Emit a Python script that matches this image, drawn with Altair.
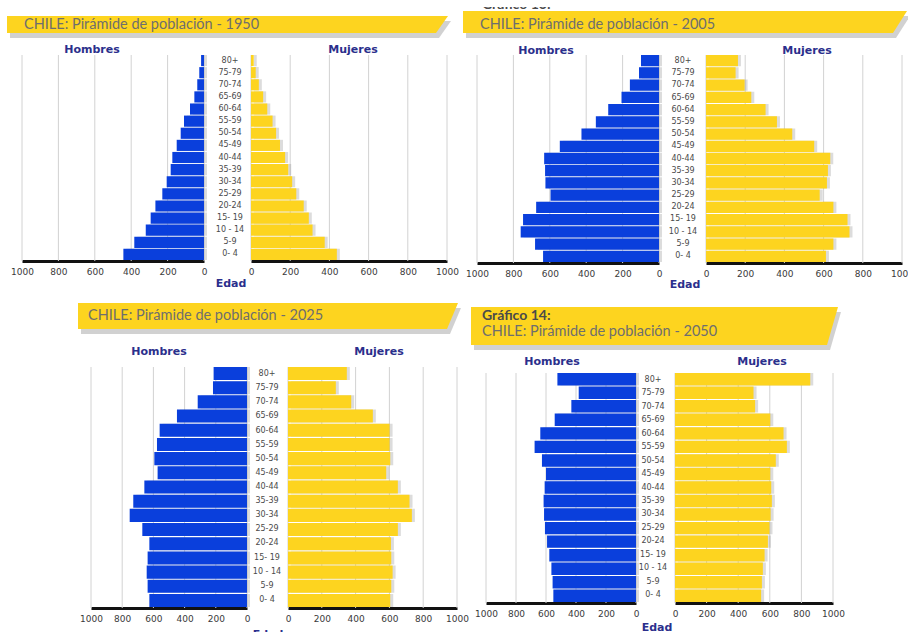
import altair as alt
import pandas as pd

# ---------------- data ----------------
AGES = ["0- 4", "5-9", "10 - 14", "15- 19", "20-24", "25-29", "30-34", "35-39",
        "40-44", "45-49", "50-54", "55-59", "60-64", "65-69", "70-74", "75-79", "80+"]
TICKS = [0, 200, 400, 600, 800, 1000]

HOMBRES_1950 = [443, 383, 320, 293, 267, 229, 205, 183, 174, 150, 128, 110, 77, 53, 37, 26, 16]
MUJERES_1950 = [438, 376, 314, 295, 269, 231, 210, 190, 174, 148, 128, 110, 83, 62, 40, 24, 14]
HOMBRES_2005 = [637, 681, 760, 747, 675, 596, 624, 626, 631, 545, 426, 347, 279, 206, 160, 110, 99]
MUJERES_2005 = [612, 650, 732, 722, 650, 580, 617, 622, 634, 552, 440, 362, 304, 231, 197, 151, 163]
HOMBRES_2025 = [626, 637, 643, 637, 626, 671, 752, 729, 658, 573, 594, 577, 560, 449, 316, 218, 214]
MUJERES_2025 = [605, 611, 619, 611, 609, 650, 733, 719, 650, 581, 605, 601, 601, 502, 374, 283, 348]
HOMBRES_2050 = [551, 556, 564, 578, 593, 607, 613, 616, 609, 600, 627, 676, 638, 542, 431, 382, 524]
MUJERES_2050 = [545, 550, 556, 567, 588, 598, 605, 613, 609, 603, 638, 708, 687, 603, 507, 497, 856]

TITLES = {
    "1950": "CHILE: Pirámide de población  - 1950",
    "2005": "CHILE: Pirámide de población  - 2005",
    "2025": "CHILE: Pirámide de población  - 2025",
    "2050": "CHILE: Pirámide de población  - 2050",
}
SUPER = {"2005": "Gráfico 13:", "2050": "Gráfico 14:"}
TXT_H = "Hombres"
TXT_M = "Mujeres"
TXT_EDAD = "Edad"

# ---------------- layout / style ----------------
W, H = 908, 632
BLUE = "#0a3fdc"
YELLOW = "#fdd41f"
NAVY = "#2b2f8c"
GRID = "#d2d2d2"

LAYOUT = {
    "1950": dict(m=(204, 22), f=(251, 447), y=(55, 260), axis=261, lab=230,
                 hom=(92, 50), muj=(353, 50), edad=(231, 284),
                 ban=(7, 16, 448, 436, 33), title=(24, 25)),
    "2005": dict(m=(659, 477), f=(706, 902), y=(55, 262), axis=263, lab=683,
                 hom=(546, 51), muj=(807, 51), edad=(685, 285),
                 ban=(463, 11, 907, 893, 33), title=(480, 25), sup=(482, 5)),
    "2025": dict(m=(247, 91), f=(288, 457), y=(367, 607), axis=608, lab=267,
                 hom=(159, 352), muj=(379, 352), edad=(268, 635),
                 ban=(78, 303, 458, 447, 329), title=(88, 316)),
    "2050": dict(m=(636, 486), f=(675, 833), y=(373, 602), axis=603, lab=653,
                 hom=(552, 362), muj=(762, 362), edad=(657, 628),
                 ban=(471, 307, 838, 827, 345), title=(482, 332), sup=(482, 316)),
}
SERIES = {
    "1950": (HOMBRES_1950, MUJERES_1950),
    "2005": (HOMBRES_2005, MUJERES_2005),
    "2025": (HOMBRES_2025, MUJERES_2025),
    "2050": (HOMBRES_2050, MUJERES_2050),
}

ONE = pd.DataFrame({"k": [0]})


def text_layer(txt, x, y, size, color, weight="normal", font="DejaVu Sans", align="center"):
    return alt.Chart(pd.DataFrame({"t": [txt]})).mark_text(
        fontSize=size, color=color, fontWeight=weight, font=font,
        align=align, baseline="middle"
    ).encode(text="t:N", x=alt.value(x), y=alt.value(y))


def banner_layers(g):
    x0, y0, xtr, xbr, y1 = g["ban"]
    w, h, wb = xtr - x0, y1 - y0, xbr - x0
    path = f"M0,0 L{w},0 L{wb},{h} L0,{h} Z"
    shadow = alt.Chart(ONE).mark_point(
        shape=path, size=4, filled=True, color="#7a7a7a", opacity=0.35, strokeWidth=0
    ).encode(x=alt.value(x0 + 3), y=alt.value(y0 + 5))
    band = alt.Chart(ONE).mark_point(
        shape=path, size=4, filled=True, color=YELLOW, opacity=1, strokeWidth=0
    ).encode(x=alt.value(x0), y=alt.value(y0))
    return [shadow, band]


def half_layers(values, xr, g, color, shadow_dx):
    df = pd.DataFrame({"edad": AGES, "valor": values})
    top_down = AGES[::-1]

    def xs():
        return alt.Scale(domain=[0, 1000], range=list(xr), nice=False, zero=True)

    def ys():
        return alt.Scale(domain=top_down, range=[g["y"][0], g["y"][1]],
                         paddingInner=0.08, paddingOuter=0)

    grid = alt.Chart(pd.DataFrame({"v": TICKS})).mark_rule(
        color=GRID, strokeWidth=1
    ).encode(x=alt.X("v:Q", scale=xs(), axis=None),
             y=alt.value(g["y"][0]), y2=alt.value(g["axis"]))
    sh = alt.Chart(df).mark_bar(color="#8a8a8a", opacity=0.3, xOffset=shadow_dx).encode(
        x=alt.X("valor:Q", scale=xs(), axis=None),
        y=alt.Y("edad:N", scale=ys(), sort=None, axis=None))
    bars = alt.Chart(df).mark_bar(color=color).encode(
        x=alt.X("valor:Q", scale=xs(), axis=alt.Axis(
            orient="bottom", offset=g["axis"] - H, values=TICKS, format="d", grid=False,
            ticks=False, tickSize=0, domain=True, domainColor="#111111", domainWidth=3,
            labelFlush=False, labelOverlap=False, labelFontSize=9,
            labelFont="DejaVu Sans", labelColor="#3a3a3a", labelPadding=6, title=None)),
        y=alt.Y("edad:N", scale=ys(), sort=None, axis=None))
    return [grid, sh, bars]


def age_labels(g):
    df = pd.DataFrame({"edad": AGES})
    return alt.Chart(df).mark_text(
        fontSize=8, color="#4a4a4a", font="DejaVu Sans", align="center", baseline="middle"
    ).encode(
        text="edad:N", x=alt.value(g["lab"]),
        y=alt.Y("edad:N", scale=alt.Scale(domain=AGES[::-1], range=[g["y"][0], g["y"][1]],
                                          paddingInner=0.08, paddingOuter=0),
                sort=None, axis=None))


layers = []
for year in ["1950", "2005", "2025", "2050"]:
    g = LAYOUT[year]
    men, women = SERIES[year]
    layers += banner_layers(g)
    if year in SUPER:
        layers.append(text_layer(SUPER[year], g["sup"][0], g["sup"][1], 14, "#4a4a4a",
                                 weight="bold", font="Lato", align="left"))
    layers.append(text_layer(TITLES[year], g["title"][0], g["title"][1], 14.5, "#6e6e6e",
                             font="Lato", align="left"))
    layers += half_layers(men, g["m"], g, BLUE, 3)
    layers += half_layers(women, g["f"], g, YELLOW, 3)
    layers.append(age_labels(g))
    layers.append(text_layer(TXT_H, g["hom"][0], g["hom"][1], 11, NAVY, weight="bold"))
    layers.append(text_layer(TXT_M, g["muj"][0], g["muj"][1], 11, NAVY, weight="bold"))
    layers.append(text_layer(TXT_EDAD, g["edad"][0], g["edad"][1], 11, NAVY, weight="bold"))

# white strip that crops the top of the 2005 caption, as in the source image
layers.append(alt.Chart(ONE).mark_rect(color="white").encode(
    x=alt.value(460), x2=alt.value(908), y=alt.value(0), y2=alt.value(7)))

chart = alt.layer(*layers).resolve_scale(x="independent", y="independent").properties(
    width=W, height=H, autosize=alt.AutoSizeParams(type="none"), padding=0,
    background="white"
).configure_view(strokeWidth=0)

chart.save("out.html", embed_options={"renderer": "svg", "actions": False})
